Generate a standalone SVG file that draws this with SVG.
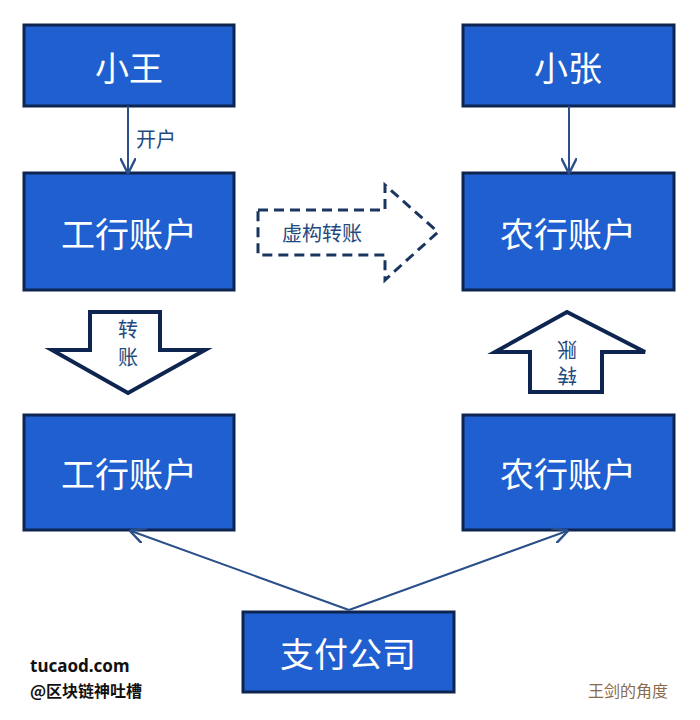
<svg xmlns="http://www.w3.org/2000/svg" width="700" height="720" viewBox="0 0 700 720">
<style>
.box{fill:#1f5fcf;stroke:#0d2550;stroke-width:3}
.bt{fill:#fff;font-family:"Noto Sans CJK SC",sans-serif;font-size:34px;text-anchor:middle;dominant-baseline:central}
.ln{stroke:#2a4f8a;stroke-width:2;fill:none}
.lab{fill:#1f4a80;font-family:"Noto Sans CJK SC",sans-serif;font-size:20px;text-anchor:middle;dominant-baseline:central}
</style>
<defs><marker id="a" viewBox="0 0 10 10" refX="9" refY="5" markerWidth="8" markerHeight="8" orient="auto"><path d="M0,0L10,5L0,10" fill="none" stroke="#2a4f8a" stroke-width="1.5"/></marker></defs>
<rect width="700" height="720" fill="#fff"/>
<g id="n1"><rect class="box" x="24" y="25" width="210" height="81"/><text class="bt" x="129" y="66">小王</text></g>
<g id="n2"><rect class="box" x="463" y="25" width="211" height="81"/><text class="bt" x="568" y="66">小张</text></g>
<g id="n3"><rect class="box" x="24" y="173" width="210" height="117"/><text class="bt" x="129" y="232">工行账户</text></g>
<g id="n4"><rect class="box" x="463" y="173" width="211" height="117"/><text class="bt" x="568" y="232">农行账户</text></g>
<g id="n5"><rect class="box" x="24" y="415" width="210" height="115"/><text class="bt" x="129" y="472">工行账户</text></g>
<g id="n6"><rect class="box" x="463" y="415" width="211" height="115"/><text class="bt" x="568" y="472">农行账户</text></g>
<g id="n7"><rect class="box" x="243" y="612" width="211" height="80"/><text class="bt" x="348" y="652">支付公司</text></g>
<g id="arrows">
<path d="M258,210H385V185L438,232L385,280V255H258Z" fill="#fff" stroke="#1a3560" stroke-width="3" stroke-dasharray="10,6"/>
<text class="lab" x="322" y="232">虚构转账</text>
<path d="M90,312H160V350H205L128,393L52,350H90Z" fill="#fff" stroke="#0d2550" stroke-width="4"/>
<text class="lab" x="128" y="328">转</text><text class="lab" x="128" y="356">账</text>
<path d="M567,312L645,352H602V392H530V352H495Z" fill="#fff" stroke="#0d2550" stroke-width="4"/>
<text class="lab" x="567" y="350" transform="rotate(180 567 350)">账</text><text class="lab" x="567" y="376" transform="rotate(180 567 376)">转</text>
</g>
<g id="connectors">
<line class="ln" x1="128" y1="106" x2="128" y2="172" marker-end="url(#a)"/>
<text class="lab" x="156" y="138">开户</text>
<line class="ln" x1="569" y1="106" x2="569" y2="172" marker-end="url(#a)"/>
<line class="ln" x1="349" y1="610" x2="131" y2="531" marker-end="url(#a)"/>
<line class="ln" x1="349" y1="610" x2="567" y2="531" marker-end="url(#a)"/>
</g>
<text x="30" y="672" font-family="Noto Sans,sans-serif" font-size="17" font-weight="bold" fill="#111">tucaod.com</text>
<text x="30" y="697" font-family="Noto Sans CJK SC,sans-serif" font-size="16" font-weight="bold" fill="#111">@区块链神吐槽</text>
<text x="588" y="697" font-family="Noto Sans CJK SC,sans-serif" font-size="16" fill="#8a6a4a">王剑的角度</text>
</svg>
